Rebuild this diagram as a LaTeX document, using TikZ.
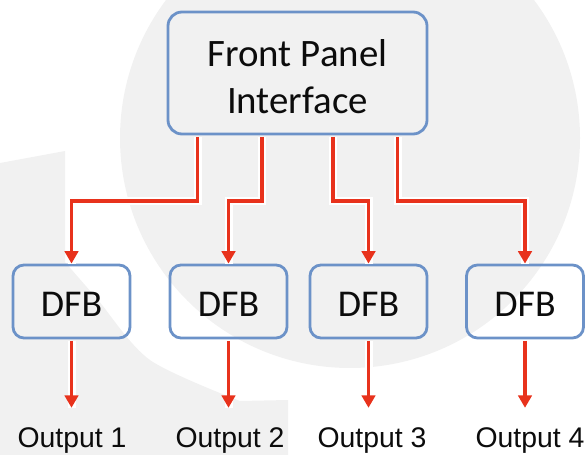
\documentclass[tikz,border=0pt]{standalone}
\usepackage{fontspec}
\setmainfont{Carlito}
\newfontfamily\outfont{Liberation Sans}
\usetikzlibrary{arrows.meta,calc}
\definecolor{lnred}{RGB}{232,50,28}
\definecolor{bxblue}{RGB}{108,146,200}
\definecolor{wm}{RGB}{241,241,241}
\definecolor{txt}{RGB}{12,12,12}
\begin{document}
\begin{tikzpicture}[x=1bp,y=-1bp,
  box/.style={draw=bxblue, line width=2.8bp, rounded corners=14bp, text=txt, inner sep=0pt},
  fpbox/.style={box, minimum width=259bp, minimum height=122bp},
  fptext/.style={text=txt, inner sep=0pt, font=\fontsize{39}{47}\selectfont, align=center},
  dfbbox/.style={box, rounded corners=11bp, minimum width=117bp, minimum height=73bp,
    font=\fontsize{38}{44}\selectfont, text height=30bp, text depth=0pt},
  outlbl/.style={font=\outfont\fontsize{28.5}{34}\selectfont, text=txt, inner sep=0pt,
    text height=39bp, text depth=0pt, anchor=base},
  conn/.style={draw=lnred, line width=3.5bp, -{Triangle[length=12.5bp,width=13.5bp]},
    preaction={draw=white, line width=8bp, -}},
]
\useasboundingbox (0,0) rectangle (586,455);
\clip (0,0) rectangle (586,455);
% faint watermark
\fill[wm] (350,138) circle[radius=230];
\fill[wm] (0,163) -- (65,151) -- plot[smooth] coordinates {(65,262) (98,300) (150,360) (240,401)}
  -- (288,400) -- (288,455) -- (0,455) -- cycle;

% nodes
\node[fpbox] (fp) at (297.5,73) {};
\node[fptext] (fpt) at ([yshift=-3.5bp]fp.center) {Front Panel\\Interface};
\node[dfbbox] (d1) at (71.5,301.5) {DFB};
\node[dfbbox] (d2) at (228.5,301.5) {DFB};
\node[dfbbox] (d3) at (368.5,301.5) {DFB};
\node[dfbbox] (d4) at (525,301.5) {DFB};
\node[outlbl] (o1) at (72,447) {Output 1};
\node[outlbl] (o2) at (230,447) {Output 2};
\node[outlbl] (o3) at (372,447) {Output 3};
\node[outlbl] (o4) at (530,447) {Output 4};
\coordinate (bus) at (0,201);

% connectors from the front panel
\draw[conn] ([xshift=-100bp,yshift=-1.4bp]fp.south) |- (bus -| d1.north) -- (d1.north);
\draw[conn] ([xshift=-35.5bp,yshift=-1.4bp]fp.south) |- (bus -| d2.north) -- (d2.north);
\draw[conn] ([xshift=35.5bp,yshift=-1.4bp]fp.south) |- (bus -| d3.north) -- (d3.north);
\draw[conn] ([xshift=100bp,yshift=-1.4bp]fp.south) |- (bus -| d4.north) -- (d4.north);

% outputs
\draw[conn] ([yshift=-1.4bp]d1.south) -- (d1.south |- o1.north);
\draw[conn] ([yshift=-1.4bp]d2.south) -- (d2.south |- o2.north);
\draw[conn] ([yshift=-1.4bp]d3.south) -- (d3.south |- o3.north);
\draw[conn] ([yshift=-1.4bp]d4.south) -- (d4.south |- o4.north);
\end{tikzpicture}
\end{document}
